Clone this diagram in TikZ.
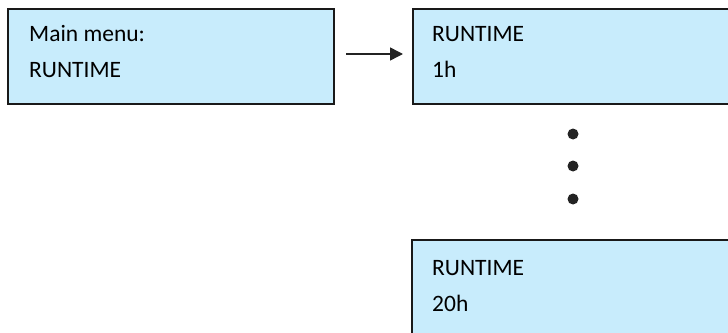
\documentclass[tikz,border=0pt]{standalone}
\usepackage{fontspec}
\setmainfont{Carlito}
\usetikzlibrary{arrows.meta}
\definecolor{boxfill}{RGB}{200,236,252}
\definecolor{boxline}{RGB}{25,25,25}
\definecolor{dotcol}{RGB}{35,35,35}
\begin{document}
\begin{tikzpicture}[x=1pt,y=-1pt,
  box/.style={draw=boxline, line width=1.8pt, fill=boxfill, minimum width=#1,
    minimum height=95pt, anchor=north west, inner sep=0pt},
  txt/.style={anchor=base west, inner sep=0pt, font=\fontsize{23.5}{28}\selectfont},
  dotnode/.style={circle, fill=dotcol, inner sep=0pt, minimum size=11pt},
  arr/.style={draw=dotcol, line width=1.5pt, -{Triangle[length=13pt,width=13pt]}}]
\useasboundingbox (0,0) rectangle (728,332);
\clip (0,0) rectangle (728,332);
% boxes
\node[box=326pt] (b1) at (7,8) {};
\node[box=340pt] (b2) at (412,8) {};
\node[box=340pt] (b3) at (411,239) {};
% texts
\node[txt] (t1a) at (29,41) {Main menu:};
\node[txt] (t1b) at (29,77) {RUNTIME};
\node[txt] (t2a) at (432,41) {RUNTIME};
\node[txt] (t2b) at (432,77) {1h};
\node[txt] (t3a) at (432,275) {RUNTIME};
\node[txt] (t3b) at (432,311) {20h};
% arrow
\coordinate (as) at (346,54);
\coordinate (ae) at (403,54);
\draw[arr] (as) -- (ae);
% dots
\node[dotnode] (d1) at (573,134) {};
\node[dotnode] (d2) at (573,166) {};
\node[dotnode] (d3) at (573,199) {};
\end{tikzpicture}
\end{document}
